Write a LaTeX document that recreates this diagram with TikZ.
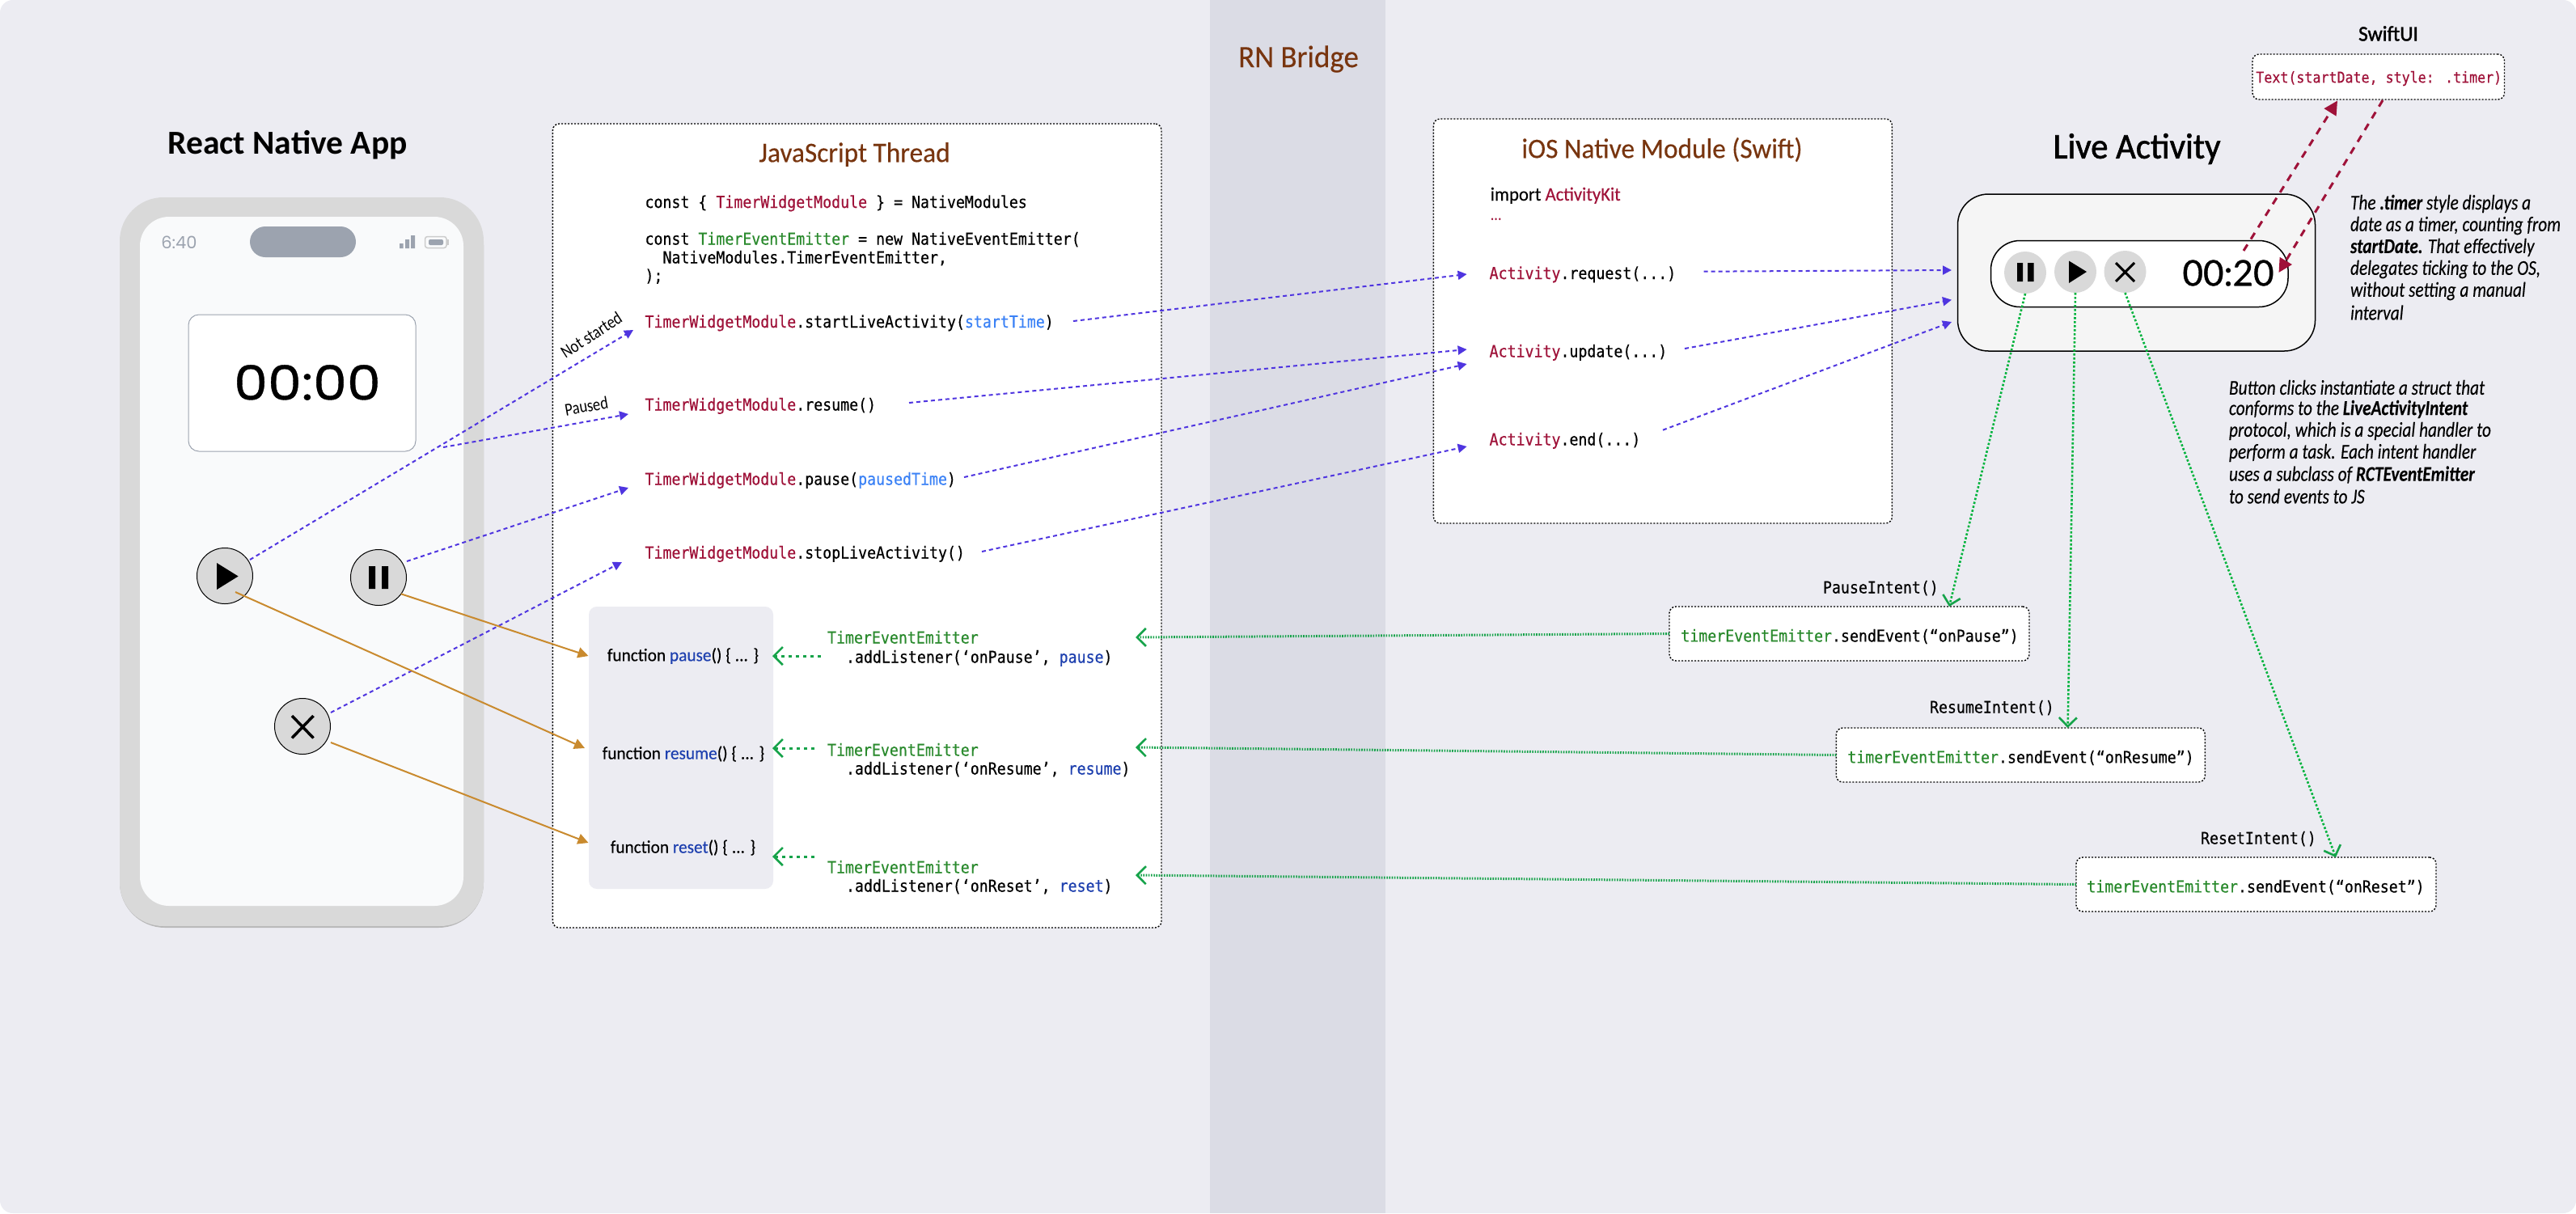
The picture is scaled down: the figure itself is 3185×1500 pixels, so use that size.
\documentclass[tikz,border=0pt]{standalone}
\usepackage{fontspec}
\usetikzlibrary{arrows.meta}
\setmainfont{Carlito}
\newfontfamily\condf[FakeStretch=0.84]{Carlito}
\newfontfamily\notef[FakeStretch=0.82,FakeBold=0.15]{Carlito}
\newfontfamily\headf[FakeStretch=0.96,FakeBold=0.3]{Carlito}
\newfontfamily\medf[FakeStretch=0.96,FakeBold=1.4]{Carlito}
\newfontfamily\codef[FakeStretch=0.89,FakeBold=0.4]{DejaVu Sans Mono}
\newfontfamily\timef[FakeStretch=1.13,FakeBold=0.6]{Poppins}
\newfontfamily\clockf{Poppins}
\newfontfamily\livef[FakeBold=0.7]{Lato}
\newcommand{\setfs}[1]{\fontsize{#1}{#1}\selectfont}
\definecolor{bgc}{HTML}{ECECF2}
\definecolor{bandc}{HTML}{DBDCE5}
\definecolor{brownc}{HTML}{78350F}
\definecolor{crim}{HTML}{9F1239}
\definecolor{codegreen}{HTML}{2A8A2D}
\definecolor{lightblue}{HTML}{3B82F6}
\definecolor{darkblue}{HTML}{1E40AF}
\definecolor{bluec}{HTML}{4F35E0}
\definecolor{orangec}{HTML}{C98A2E}
\definecolor{arrowgreen}{HTML}{16A34A}
\definecolor{longgreen}{HTML}{00B33C}
\definecolor{graybtn}{HTML}{D9D9D9}
\definecolor{grayui}{HTML}{9CA3AF}
\definecolor{phonefill}{HTML}{F9FAFB}
\definecolor{livefill}{HTML}{F5F5F5}
\newcommand{\crimt}[1]{\textcolor{crim}{#1}}
\newcommand{\greent}[1]{\textcolor{codegreen}{#1}}
\newcommand{\lbt}[1]{\textcolor{lightblue}{#1}}
\newcommand{\dbt}[1]{\textcolor{darkblue}{#1}}
\tikzset{
  panel/.style={draw=black,fill=white,line width=1.4pt,dash pattern=on 2pt off 2pt,rounded corners=8pt,inner sep=0pt,outer sep=0pt},
  codetext/.style={anchor=base west,inner sep=0pt,outer sep=0pt,font=\codef\setfs{20.5},text=black},
  fntext/.style={inner sep=0pt,outer sep=0pt,font=\headf\setfs{22.2},text=black},
  heading/.style={inner sep=0pt,outer sep=0pt,font=\headf\setfs{34.7},text=brownc},
  notetext/.style={anchor=west,inner sep=0pt,outer sep=0pt,font=\notef\itshape\setfs{26},text=black},
  btn/.style={circle,draw=black,fill=graybtn,line width=1pt,minimum size=69pt,inner sep=0pt,outer sep=0pt},
  livebtn/.style={circle,fill=graybtn,minimum size=52pt,inner sep=0pt,outer sep=0pt},
  bluearrow/.style={draw=bluec,line width=2pt,dash pattern=on 5pt off 4pt,-{Triangle[length=11pt,width=11pt,fill=bluec]}},
  orangearrow/.style={draw=orangec,line width=2pt,-{Triangle[length=13pt,width=13pt,fill=orangec]}},
  redarrow/.style={draw=crim,line width=3pt,dash pattern=on 9pt off 8pt,-{Triangle[length=17pt,width=17pt,fill=crim]}},
  greenshort/.style={draw=arrowgreen,line width=3pt,dash pattern=on 4pt off 5pt,-{Straight Barb[length=11pt,width=22pt,line width=2.6pt]}},
  greenback/.style={draw=arrowgreen,line width=3pt,dash pattern=on 1.6pt off 1.6pt,-{Straight Barb[length=11pt,width=22pt,line width=2.6pt]}},
  greenlong/.style={draw=longgreen,line width=2.6pt,dash pattern=on 2.6pt off 2.4pt,-{Straight Barb[length=11pt,width=22pt,line width=2.6pt,color=arrowgreen]}},
}
\begin{document}
\begin{tikzpicture}[x=1pt,y=-1pt]
\useasboundingbox (0,0) rectangle (3185,1500);
% background
\fill[white] (0,0) rectangle (3185,1500);
\fill[bgc,rounded corners=16pt] (0,0) rectangle (3185,1500);
\fill[bandc] (1496,0) rectangle (1712.5,1500);
\node[inner sep=0pt,font=\headf\setfs{38.5},text=brownc] (bridge) at (1605.5,73) {RN Bridge};
% phone
\node[inner sep=0pt,font=\bfseries\setfs{41.5}] (appTitle) at (355.5,179) {React Native App};
\fill[black!28,rounded corners=56pt] (148,247) rectangle (598,1147);
\node[fill=graybtn,rounded corners=54pt,minimum width=450pt,minimum height=901pt,inner sep=0pt,outer sep=0pt] (phone) at (373,694.5) {};
\node[fill=phonefill,rounded corners=36pt,minimum width=400pt,minimum height=852pt,inner sep=0pt,outer sep=0pt] (screen) at (373,694) {};
\node[fill=grayui,rounded corners=19pt,minimum width=131pt,minimum height=38pt,inner sep=0pt,outer sep=0pt] (notch) at (374.5,299) {};
\node[inner sep=0pt,font=\clockf\setfs{21},text=grayui] (clock) at (221.5,300) {6:40};
\fill[grayui] (494,301) rectangle (498.6,307) (501,296) rectangle (506,307) (508,291) rectangle (513,307);
\draw[black!20,line width=1.5pt,rounded corners=3pt] (525.5,292.5) rectangle (552,306.5);
\fill[grayui,rounded corners=2pt] (530,296) rectangle (548,303);
\fill[black!20] (553,296) rectangle (555,303);
\node[draw=grayui,fill=white,line width=1pt,rounded corners=13pt,minimum width=281pt,minimum height=169pt,inner sep=0pt,outer sep=0pt] (timerBox) at (373.5,473.5) {};
\node[inner sep=0pt,font=\timef\setfs{59}] (timerText) at (380,473) {00:00};
% phone buttons
\node[btn] (playBtn) at (278,712) {};
\fill[black] (268,696) -- (294.6,712.5) -- (268,729) -- cycle;
\node[btn] (pauseBtn) at (468,714) {};
\fill[black] (456,700) rectangle (464,728) (472,700) rectangle (480,728);
\node[btn] (xBtn) at (374,898) {};
\draw[black,line width=3.5pt] (361,885) -- (387.5,912.5) (387.5,885) -- (361,912.5);
% JS panel
\node[panel,minimum width=752.6pt,minimum height=994pt] (jsPanel) at (1059.7,650) {};
\node[heading] (jsTitle) at (1056.5,191) {JavaScript Thread};
\node[codetext] (l1) at (797.5,257) {const \{ \crimt{TimerWidgetModule} \} = NativeModules};
\node[codetext] (l2) at (797.5,302.5) {const \greent{TimerEventEmitter} = new NativeEventEmitter(};
\node[codetext] (l3) at (819.5,325.5) {NativeModules.TimerEventEmitter,};
\node[codetext] (l4) at (797.5,348) {);};
\node[codetext] (startCall) at (797.5,405) {\crimt{TimerWidgetModule}.startLiveActivity(\lbt{startTime})};
\node[codetext] (resumeCall) at (797.5,507.5) {\crimt{TimerWidgetModule}.resume()};
\node[codetext] (pauseCall) at (797.5,599.5) {\crimt{TimerWidgetModule}.pause(\lbt{pausedTime})};
\node[codetext] (stopCall) at (797.5,690.5) {\crimt{TimerWidgetModule}.stopLiveActivity()};
\node[inner sep=0pt,font=\condf\setfs{22},rotate=33] (notStarted) at (731,414) {Not started};
\node[inner sep=0pt,font=\condf\setfs{22},rotate=10] (pausedLbl) at (725,502) {Paused};
% function box
\node[fill=bgc,rounded corners=10pt,minimum width=228pt,minimum height=349pt,inner sep=0pt,outer sep=0pt] (fnBox) at (842,924.5) {};
\node[fntext] (fnPause) at (844.5,811) {function \dbt{pause}() \{ ... \}};
\node[fntext] (fnResume) at (845,932) {function \dbt{resume}() \{ ... \}};
\node[fntext] (fnReset) at (844.5,1048) {function \dbt{reset}() \{ ... \}};
% listeners
\node[codetext] (la1) at (1023,795.5) {\greent{TimerEventEmitter}};
\node[codetext] (lb1) at (1046,819.5) {.addListener(‘onPause’, \dbt{pause})};
\node[codetext] (la2) at (1023,934.5) {\greent{TimerEventEmitter}};
\node[codetext] (lb2) at (1046,957.5) {.addListener(‘onResume’, \dbt{resume})};
\node[codetext] (la3) at (1023,1079.5) {\greent{TimerEventEmitter}};
\node[codetext] (lb3) at (1046,1102.5) {.addListener(‘onReset’, \dbt{reset})};
% native panel
\node[panel,minimum width=567pt,minimum height=500pt] (nativePanel) at (2055.9,397) {};
\node[heading] (nativeTitle) at (2055,185) {iOS Native Module (Swift)};
\node[anchor=base west,inner sep=0pt,font=\headf\setfs{23.6}] (importL) at (1842.6,248) {import \crimt{ActivityKit}};
\node[anchor=base west,inner sep=0pt,font=\condf\setfs{22},text=crim] (dotsL) at (1842.6,272) {...};
\node[codetext] (reqL) at (1841.6,345) {\crimt{Activity}.request(...)};
\node[codetext] (updL) at (1841.6,441.5) {\crimt{Activity}.update(...)};
\node[codetext] (endL) at (1841.6,550.5) {\crimt{Activity}.end(...)};
% live activity
\node[inner sep=0pt,font=\medf\setfs{44.5}] (liveTitle) at (2642,184) {Live Activity};
\node[draw=black,fill=livefill,line width=1.5pt,rounded corners=38pt,minimum width=442pt,minimum height=194pt,inner sep=0pt,outer sep=0pt] (liveBox) at (2641.5,337) {};
\node[draw=black,fill=white,line width=1.5pt,rounded corners=36pt,minimum width=367.5pt,minimum height=82pt,inner sep=0pt,outer sep=0pt] (pill) at (2645.25,338.5) {};
\node[livebtn] (livePause) at (2504,337) {};
\fill[black] (2494,325) rectangle (2501,348) (2507,325) rectangle (2514.5,348);
\node[livebtn] (livePlay) at (2566,336) {};
\fill[black] (2558,322.5) -- (2580,336) -- (2558,350) -- cycle;
\node[livebtn] (liveX) at (2627.5,336) {};
\draw[black,line width=3pt] (2616,325) -- (2639,348) (2639,325) -- (2616,348);
\node[inner sep=0pt,font=\livef\setfs{44}] (liveTime) at (2755,337.5) {00:20};
% swiftui
\node[inner sep=0pt,font=\medf\setfs{26.5}] (swiftTitle) at (2953,41.5) {SwiftUI};
\node[panel,minimum width=311.5pt,minimum height=56pt] (swiftBox) at (2940.75,95) {};
\node[inner sep=0pt,font=\codef\setfs{18.7},text=crim] (swiftCode) at (2941.25,97) {Text(startDate, style: .timer)};
% notes
\node[notetext] (n1) at (2906,252) {The \textbf{.timer} style displays a};
\node[notetext] (n2) at (2906,279) {date as a timer, counting from};
\node[notetext] (n3) at (2906,306) {\textbf{startDate.} That effectively};
\node[notetext] (n4) at (2906,333) {delegates ticking to the OS,};
\node[notetext] (n5) at (2906,360) {without setting a manual};
\node[notetext] (n6) at (2906,386.5) {interval};
\node[notetext] (m1) at (2756,479) {Button clicks instantiate a struct that};
\node[notetext] (m2) at (2756,506) {conforms to the \textbf{LiveActivityIntent}};
\node[notetext] (m3) at (2756,533) {protocol, which is a special handler to};
\node[notetext] (m4) at (2756,560) {perform a task. Each intent handler};
\node[notetext] (m5) at (2756,587) {uses a subclass of \textbf{RCTEventEmitter}};
\node[notetext] (m6) at (2756,613.5) {to send events to JS};
% send boxes
\node[panel,minimum width=445pt,minimum height=67pt] (send1) at (2286.5,783.5) {};
\node[inner sep=0pt,font=\codef\setfs{20.5}] (send1t) at (2287,787) {\greent{timerEventEmitter}.sendEvent(“onPause”)};
\node[panel,minimum width=456pt,minimum height=67pt] (send2) at (2498.3,933.5) {};
\node[inner sep=0pt,font=\codef\setfs{20.5}] (send2t) at (2498.5,937) {\greent{timerEventEmitter}.sendEvent(“onResume”)};
\node[panel,minimum width=445pt,minimum height=67pt] (send3) at (2789.5,1093.5) {};
\node[inner sep=0pt,font=\codef\setfs{20.5}] (send3t) at (2789,1097) {\greent{timerEventEmitter}.sendEvent(“onReset”)};
\node[codetext] (intent1) at (2254,733.5) {PauseIntent()};
\node[codetext] (intent2) at (2386,881.5) {ResumeIntent()};
\node[codetext] (intent3) at (2721,1043.5) {ResetIntent()};
% connectors: blue
\coordinate (pausedFork) at (548,553);
\draw[bluearrow] ([shift={(31,-20)}]playBtn.center) -- ([shift={(-14.5,3)}]startCall.base west);
\draw[bluearrow] (pausedFork) -- ([shift={(-20.5,4.5)}]resumeCall.base west);
\draw[bluearrow] ([shift={(35,-20)}]pauseBtn.center) -- ([shift={(-20.5,3.5)}]pauseCall.base west);
\draw[bluearrow] ([shift={(35,-17)}]xBtn.center) -- ([shift={(-28.5,4.5)}]stopCall.base west);
\draw[bluearrow] ([shift={(529.5,-8)}]startCall.base west) -- ([shift={(-28,-6)}]reqL.base west);
\draw[bluearrow] ([shift={(326.5,-9.5)}]resumeCall.base west) -- ([shift={(-28,-9.5)}]updL.base west);
\draw[bluearrow] ([shift={(394.5,-9.5)}]pauseCall.base west) -- ([shift={(-28,8.5)}]updL.base west);
\draw[bluearrow] ([shift={(416.5,-8.5)}]stopCall.base west) -- ([shift={(-28,1.5)}]endL.base west);
\draw[bluearrow] ([shift={(265,-9.3)}]reqL.base west) -- ([shift={(-7.5,-3)}]liveBox.west);
\draw[bluearrow] ([shift={(241.4,-10.5)}]updL.base west) -- ([shift={(-7.5,33.7)}]liveBox.west);
\draw[bluearrow] ([shift={(214.4,-18.8)}]endL.base west) -- ([shift={(-7.5,61)}]liveBox.west);
% connectors: orange
\draw[orangearrow] (pauseBtn.-36) -- ([shift={(-0.5,61)}]fnBox.north west);
\draw[orangearrow] ([shift={(13,20)}]playBtn.center) -- ([shift={(-5,175)}]fnBox.north west);
\draw[orangearrow] ([shift={(35,20)}]xBtn.center) -- ([shift={(-0.5,292)}]fnBox.north west);
% connectors: green
\draw[greenshort] ([shift={(-31.5,-8.5)}]lb1.base west) -- ([shift={(-1,61)}]fnBox.north east);
\draw[greenshort] ([shift={(-16,-9.5)}]la2.base west) -- ([shift={(-1,175)}]fnBox.north east);
\draw[greenshort] ([shift={(-16,-20.5)}]la3.base west) -- ([shift={(-1,309)}]fnBox.north east);
\draw[greenback] (send1.west) -- ([shift={(358,-31.5)}]lb1.base west);
\draw[greenback] (send2.west) -- ([shift={(358,-33.5)}]lb2.base west);
\draw[greenback] (send3.west) -- ([shift={(358,-20.5)}]lb3.base west);
\draw[greenlong] (livePause.south) -- ([xshift=123.5pt]send1.north);
\draw[greenlong] (livePlay.south) -- ([xshift=58.3pt]send2.north);
\draw[greenlong] (liveX.south) -- ([xshift=98.5pt]send3.north);
% connectors: red
\draw[redarrow] ([shift={(19,-27.5)}]liveTime.center) -- ([shift={(-50.75,1.5)}]swiftBox.south);
\draw[redarrow] ([shift={(5.25,1)}]swiftBox.south) -- ([shift={(-11.5,-1.5)}]pill.east);
\end{tikzpicture}
\end{document}
